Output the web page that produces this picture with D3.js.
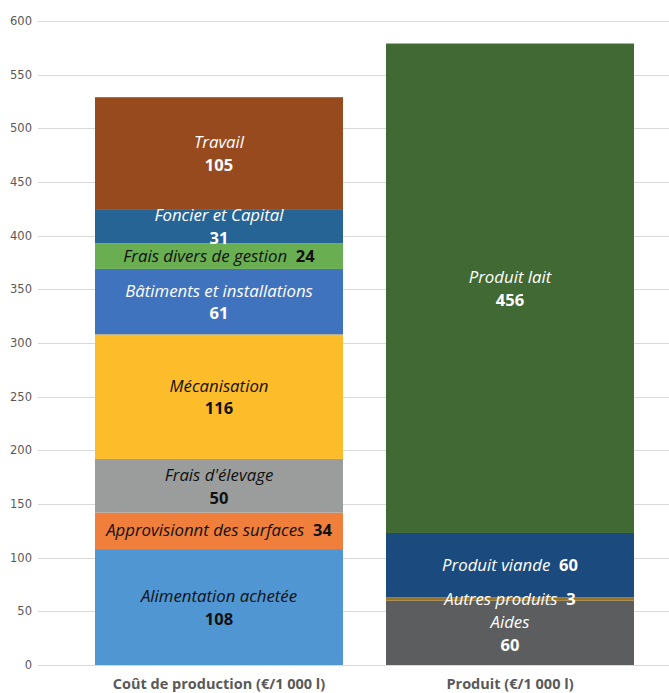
<!DOCTYPE html>
<html><head><meta charset="utf-8">
<script src="https://cdn.jsdelivr.net/npm/d3@7"></script>
<style>
html,body{margin:0;padding:0;background:#fff;}
svg{display:block;}
</style></head>
<body>
<svg id="chart" width="669" height="693"></svg>
<script>
const categories = ["Coût de production (€/1 000 l)", "Produit (€/1 000 l)"];

const costNames = ["Alimentation achetée", "Approvisionnt des surfaces", "Frais d'élevage", "Mécanisation",
  "Bâtiments et installations", "Frais divers de gestion", "Foncier et Capital", "Travail"];
const costValues = [108, 34, 50, 116, 61, 24, 31, 105];
const costColors = ["#4f96d2", "#ef7f3a", "#9b9d9d", "#fdbd2a", "#3f73bd", "#6aae52", "#266496", "#984a1f"];
const costTextColors = ["#111", "#111", "#111", "#111", "#fff", "#111", "#fff", "#fff"];

const productNames = ["Aides", "Autres produits", "Produit viande", "Produit lait"];
const productValues = [60, 3, 60, 456];
const productColors = ["#5b5d5e", "#9a7320", "#1b4b7e", "#416934"];
const productTextColors = ["#fff", "#fff", "#fff", "#fff"];

const yTicks = [0, 50, 100, 150, 200, 250, 300, 350, 400, 450, 500, 550, 600];
const inlineLabels = ["Approvisionnt des surfaces", "Frais divers de gestion", "Produit viande", "Autres produits"];

const svg = d3.select("#chart");
const y = d3.scaleLinear().domain([0, 600]).range([665, 21]);
const x = d3.scaleBand().domain(categories).range([73.5, 655.5]).paddingInner(0.1478).paddingOuter(0.0739);

// gridlines
svg.append("g").selectAll("line").data(yTicks).join("line")
  .attr("x1", 38).attr("x2", 669)
  .attr("y1", d => Math.round(y(d)) + 0.5).attr("y2", d => Math.round(y(d)) + 0.5)
  .attr("stroke", "#d9d9d9").attr("stroke-width", 1);

// y tick labels
svg.append("g").selectAll("text").data(yTicks).join("text")
  .attr("x", 32).attr("y", d => y(d)).attr("dy", "0.35em")
  .attr("text-anchor", "end")
  .attr("font-family", "DejaVu Sans, sans-serif").attr("font-size", 11.5)
  .attr("fill", "#595959").text(d => d);

const bars = [
  {cat: categories[0], names: costNames, values: costValues, colors: costColors, tcolors: costTextColors},
  {cat: categories[1], names: productNames, values: productValues, colors: productColors, tcolors: productTextColors}
];

const font = "'Open Sans', sans-serif";
const fsName = 16.8;
const fsVal = 16.5;

bars.forEach(b => {
  const ends = d3.cumsum(b.values);
  const segs = b.values.map((v, i) => ({name: b.names[i], value: v, y0: ends[i] - v, y1: ends[i], color: b.colors[i], tc: b.tcolors[i]}));
  const g = svg.append("g");
  g.selectAll("rect").data(segs).join("rect")
    .attr("x", x(b.cat)).attr("width", x.bandwidth())
    .attr("y", d => y(d.y1)).attr("height", d => y(d.y0) - y(d.y1))
    .attr("fill", d => d.color);
  const cx = x(b.cat) + x.bandwidth() / 2;
  segs.forEach(d => {
    const cy = y((d.y0 + d.y1) / 2);
    if (inlineLabels.includes(d.name)) {
      const t = g.append("text").attr("x", cx).attr("y", cy).attr("dy", "0.35em")
        .attr("text-anchor", "middle").attr("font-family", font).attr("fill", d.tc);
      t.append("tspan").attr("font-style", "italic").attr("font-size", fsName).text(d.name + "\u00a0\u00a0");
      t.append("tspan").attr("font-weight", "bold").attr("font-size", fsVal).text(d.value);
    } else {
      g.append("text").attr("x", cx).attr("y", cy - 11).attr("dy", "0.35em")
        .attr("text-anchor", "middle").attr("font-family", font).attr("font-size", fsName)
        .attr("font-style", "italic").attr("fill", d.tc).text(d.name);
      g.append("text").attr("x", cx).attr("y", cy + 12).attr("dy", "0.35em")
        .attr("text-anchor", "middle").attr("font-family", font).attr("font-size", fsVal)
        .attr("font-weight", "bold").attr("fill", d.tc).text(d.value);
    }
  });
});

// x axis labels
svg.append("g").selectAll("text").data(categories).join("text")
  .attr("x", d => x(d) + x.bandwidth() / 2).attr("y", 684).attr("dy", "0.35em")
  .attr("text-anchor", "middle").attr("font-family", font).attr("font-size", 14.5)
  .attr("font-weight", "bold").attr("fill", "#595959").text(d => d);
</script>
</body></html>
